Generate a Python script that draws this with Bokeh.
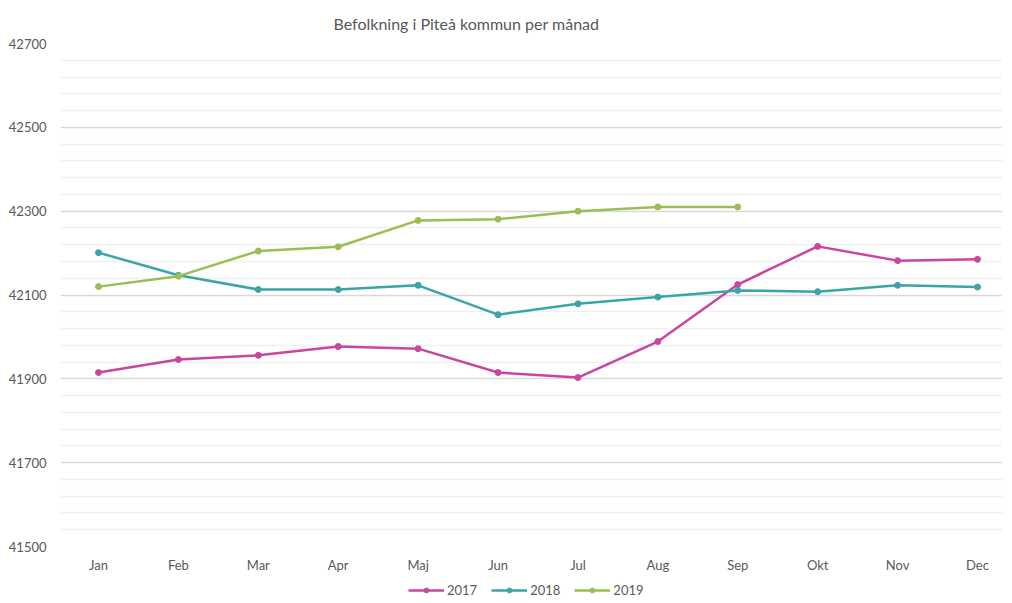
from bokeh.plotting import figure
from bokeh.models import Legend, LegendItem, FixedTicker, Range1d, Title
from bokeh.layouts import column
from bokeh.embed import file_html
from bokeh.resources import INLINE

months = ["Jan", "Feb", "Mar", "Apr", "Maj", "Jun", "Jul", "Aug", "Sep", "Okt", "Nov", "Dec"]
pop_2017 = [41915, 41946, 41956, 41977, 41972, 41915, 41903, 41989, 42125, 42216, 42182, 42185]
pop_2018 = [42201, 42147, 42113, 42113, 42123, 42053, 42079, 42095, 42111, 42108, 42123, 42119]
pop_2019 = [42120, 42145, 42205, 42215, 42278, 42281, 42300, 42310, 42310]
years = ["2017", "2018", "2019"]
y_ticks = [41500, 41700, 41900, 42100, 42300, 42500, 42700]
colors = ["#C8469F", "#3AA5A9", "#9BBD52"]

FONT = "Lato"
TXT = "#595959"

p = figure(frame_width=942, frame_height=503, output_backend="svg", toolbar_location=None,
           x_range=Range1d(-0.4755, 11.313), y_range=Range1d(y_ticks[0], y_ticks[-1]),
           min_border_left=60, min_border_right=0, min_border_top=0, min_border_bottom=0)
p.outline_line_color = None

p.title = Title(text="Befolkning  i  Piteå  kommun  per  månad", align="left", offset=273,
                text_font=FONT, text_font_size="16px", text_font_style="normal",
                text_color=TXT, standoff=22)

# small companion figure that only carries the legend, below the chart
leg = figure(width=1002, height=24, output_backend="svg", toolbar_location=None,
             x_range=p.x_range, y_range=Range1d(0, 1),
             x_axis_location=None, y_axis_location=None,
             min_border_left=0, min_border_right=0, min_border_top=0, min_border_bottom=0)
leg.outline_line_color = None
leg.grid.visible = False

series = [pop_2017, pop_2018, pop_2019]
items = []
for yr, vals, c in zip(years, series, colors):
    xs = list(range(len(vals)))
    p.line(xs, vals, line_color=c, line_width=2.5)
    p.scatter(xs, vals, size=6, fill_color=c, line_color=c)
    l = leg.line(xs, vals, line_color=c, line_width=2.5)
    s = leg.scatter(xs, vals, size=6, fill_color=c, line_color=c)
    items.append(LegendItem(label=yr, renderers=[l, s]))

minor = []
for a, b in zip(y_ticks[:-1], y_ticks[1:]):
    step = (b - a) / 5
    minor += [a + step * k for k in range(1, 5)]

p.xgrid.grid_line_color = None
p.ygrid.grid_line_color = "#d9d9d9"
p.ygrid.grid_line_width = 1.3
p.ygrid.minor_grid_line_color = "#f0f0f0"
p.ygrid.minor_grid_line_width = 1.3

p.yaxis.ticker = FixedTicker(ticks=y_ticks, minor_ticks=minor)
p.xaxis.ticker = FixedTicker(ticks=list(range(len(months))))
p.xaxis.major_label_overrides = {i: m for i, m in enumerate(months)}

for ax in (p.xaxis[0], p.yaxis[0]):
    ax.axis_line_color = None
    ax.major_tick_line_color = None
    ax.minor_tick_line_color = None
    ax.major_tick_out = 0
    ax.major_tick_in = 0
    ax.minor_tick_out = 0
    ax.minor_tick_in = 0
    ax.major_label_text_font = FONT
    ax.major_label_text_font_size = "13px"
    ax.major_label_text_color = TXT
p.yaxis.major_label_standoff = 14
p.xaxis.major_label_standoff = 10

legend = Legend(items=items, orientation="horizontal", location=(348, 1),
                label_text_font=FONT, label_text_font_size="13px", label_text_color=TXT,
                glyph_width=36, glyph_height=12, spacing=14, padding=0, margin=0,
                label_standoff=3, label_height=12, border_line_color=None, background_fill_alpha=0)
leg.add_layout(legend, "center")

layout = column(p, leg, spacing=0)
open("out.html", "w").write(file_html(layout, INLINE))
